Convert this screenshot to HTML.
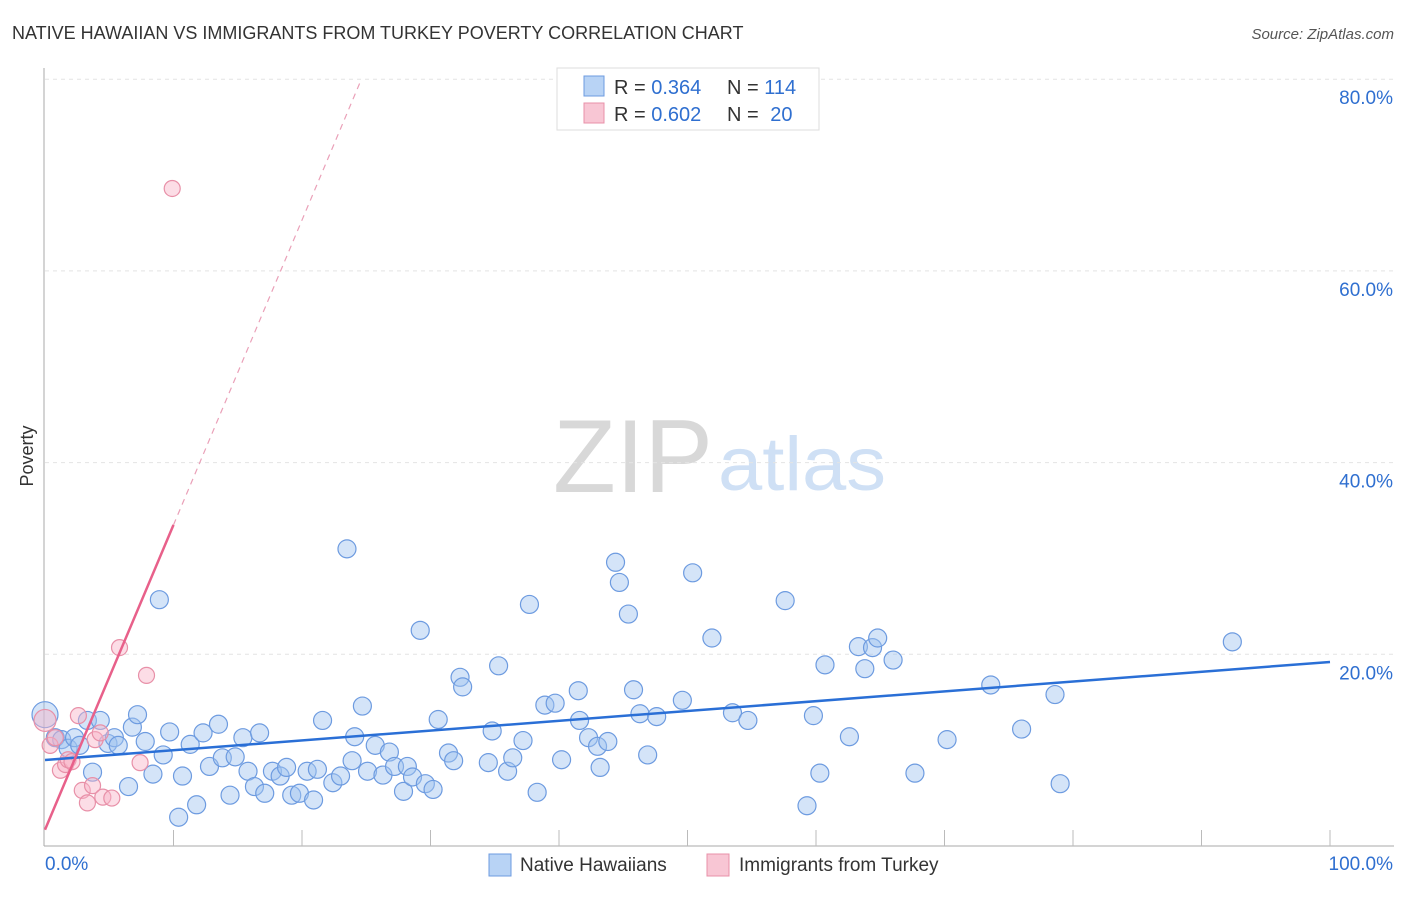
<!DOCTYPE html>
<html><head><meta charset="utf-8"><style>
body{margin:0;background:#fff;font-family:"Liberation Sans",sans-serif;}
svg text{font-family:"Liberation Sans",sans-serif;}
</style></head><body>
<svg id="chart" width="1406" height="892" xmlns="http://www.w3.org/2000/svg">
<text x="12" y="39" font-size="18" fill="#333">NATIVE HAWAIIAN VS IMMIGRANTS FROM TURKEY POVERTY CORRELATION CHART</text>
<text x="1394" y="39" font-size="15" fill="#555" text-anchor="end" font-style="italic">Source: ZipAtlas.com</text>
<text x="553" y="492" font-size="104" fill="#d8d8d8" font-family="Liberation Serif" textLength="160" lengthAdjust="spacingAndGlyphs">ZIP</text>
<text x="718" y="490" font-size="76" fill="#cfe0f5" textLength="168" lengthAdjust="spacingAndGlyphs">atlas</text>
<text x="33" y="456" font-size="18" fill="#333" text-anchor="middle" transform="rotate(-90 33 456)">Poverty</text>
<g id="grid"></g><g id="axes"></g><g id="pts"></g><g id="lines"></g>
<g>
<rect x="557" y="68" width="262" height="62" fill="#fff" stroke="#ddd"/>
<rect x="584" y="76" width="20" height="20" fill="#b8d3f5" stroke="#6d9be0"/>
<text x="614" y="94" font-size="20" fill="#333">R = <tspan fill="#2f6fd0">0.364</tspan></text>
<text x="727" y="94" font-size="20" fill="#333">N = <tspan fill="#2f6fd0">114</tspan></text>
<rect x="584" y="103" width="20" height="20" fill="#f8c6d4" stroke="#e890a8"/>
<text x="614" y="121" font-size="20" fill="#333">R = <tspan fill="#2f6fd0">0.602</tspan></text>
<text x="727" y="121" font-size="20" fill="#333">N = <tspan fill="#2f6fd0" dx="6">20</tspan></text>
</g>
<g>
<rect x="489" y="854" width="22" height="22" fill="#b8d3f5" stroke="#6d9be0"/>
<text x="520" y="871" font-size="19" fill="#333">Native Hawaiians</text>
<rect x="707" y="854" width="22" height="22" fill="#f8c6d4" stroke="#e890a8"/>
<text x="739" y="871" font-size="19" fill="#333">Immigrants from Turkey</text>
</g>
</svg>
<script>
const blueX=[0,0.8,1.3,1.8,2.3,2.7,3.3,4.3,3.7,4.9,5.4,5.7,6.5,6.8,7.2,7.8,8.4,8.9,9.2,9.7,10.4,10.7,11.3,11.8,12.3,12.8,13.5,13.8,14.4,14.8,15.4,15.8,16.3,16.7,17.1,17.7,18.3,18.8,19.2,19.8,20.4,20.9,21.2,21.6,22.4,23.0,23.5,23.9,24.1,24.7,25.1,25.7,26.3,26.8,27.2,27.9,28.2,28.6,29.2,29.6,30.2,30.6,31.4,31.8,32.3,32.5,34.5,34.8,35.3,36.0,36.4,37.2,37.7,38.3,38.9,39.7,40.2,41.5,41.6,42.3,43.0,43.2,43.8,44.4,44.7,45.4,45.8,46.3,46.9,47.6,49.6,50.4,51.9,53.5,54.7,57.6,59.3,59.8,60.3,60.7,62.6,63.3,63.8,64.4,64.8,66.0,67.7,70.2,73.6,76.0,78.6,79.0,92.4];
const blueY=[13.7,11.3,11.1,10.2,11.3,10.5,13.1,13.1,7.7,10.7,11.3,10.5,6.2,12.4,13.7,10.9,7.5,25.7,9.5,11.9,3.0,7.3,10.6,4.3,11.8,8.3,12.7,9.2,5.3,9.3,11.3,7.8,6.2,11.8,5.5,7.8,7.3,8.2,5.3,5.5,7.8,4.8,8.0,13.1,6.6,7.3,31.0,8.9,11.4,14.6,7.8,10.5,7.4,9.8,8.3,5.7,8.3,7.2,22.5,6.5,5.9,13.2,9.7,8.9,17.6,16.6,8.7,12.0,18.8,7.8,9.2,11.0,25.2,5.6,14.7,14.9,9.0,16.2,13.1,11.3,10.4,8.2,10.9,29.6,27.5,24.2,16.3,13.8,9.5,13.5,15.2,28.5,21.7,13.9,13.1,25.6,4.2,13.6,7.6,18.9,11.4,20.8,18.5,20.7,21.7,19.4,7.6,11.1,16.8,12.2,15.8,6.5,21.3];
const pinkX=[0,0.4,0.8,1.2,1.6,1.8,2.1,2.6,2.9,3.3,3.7,3.9,4.3,4.5,5.2,5.8,7.4,7.9,9.9];
const pinkY=[13.1,10.5,11.3,7.9,8.5,9.0,8.8,13.6,5.8,4.5,6.3,11.1,11.8,5.1,5.0,20.7,8.7,17.8,68.6];
const yTicks=[20,40,60,80];
const blueFit=[8.97,19.2];
const pinkFit=[1.7,3.18];
const NS="http://www.w3.org/2000/svg";
const X=v=>45+v*12.85, Y=v=>846-v*9.585;
function mk(p,t,a){const e=document.createElementNS(NS,t);for(const k in a)e.setAttribute(k,a[k]);p.appendChild(e);return e;}
const g=document.getElementById('grid'),ax=document.getElementById('axes'),pts=document.getElementById('pts'),ln=document.getElementById('lines');
yTicks.forEach(t=>{const l=mk(g,'line',{x1:45,x2:1394,y1:Y(t),y2:Y(t),stroke:'#e4e4e4','stroke-dasharray':'4,4'});


const tx=mk(g,'text',{x:1393,y:Y(t)+25,'font-size':19,fill:'#2f6fd0','text-anchor':'end'});tx.textContent=t.toFixed(1)+'%';

});
const ya=mk(ax,'line',{x1:44,x2:44,y1:68,y2:846,stroke:'#aaa'});


const xa=mk(ax,'line',{x1:44,x2:1394,y1:846,y2:846,stroke:'#aaa'});


for(let i=1;i<=10;i++){const t=mk(ax,'line',{x1:X(i*10),x2:X(i*10),y1:830,y2:846,stroke:'#bbb'});

}
const l0=mk(ax,'text',{x:45,y:870,'font-size':19,fill:'#2f6fd0'});l0.textContent='0.0%';


const l1=mk(ax,'text',{x:1393,y:870,'font-size':19,fill:'#2f6fd0','text-anchor':'end'});l1.textContent='100.0%';


blueX.forEach((x,i)=>{const c=mk(pts,'circle',{cx:X(x),cy:Y(blueY[i]),r:i==0?13:9,fill:'rgba(160,195,240,0.45)',stroke:'#6d9be0','stroke-width':1.2});

});
pinkX.forEach((x,i)=>{const c=mk(pts,'circle',{cx:X(x),cy:Y(pinkY[i]),r:i==0?11:8,fill:'rgba(248,180,200,0.45)',stroke:'#e890a8','stroke-width':1.2});

});
const bl=mk(ln,'line',{x1:X(0),y1:Y(blueFit[0]),x2:X(100),y2:Y(blueFit[1]),stroke:'#2a6fd6','stroke-width':2.5});


const ps=mk(ln,'line',{x1:X(0),y1:Y(pinkFit[0]),x2:X(10),y2:Y(pinkFit[0]+pinkFit[1]*10),stroke:'#e8608a','stroke-width':2.5});


const pd=mk(ln,'line',{x1:X(10),y1:Y(pinkFit[0]+pinkFit[1]*10),x2:X(24.5),y2:Y(pinkFit[0]+pinkFit[1]*24.5),stroke:'#eaa0b8','stroke-width':1.2,'stroke-dasharray':'6,5'});


</script>
</body></html>
